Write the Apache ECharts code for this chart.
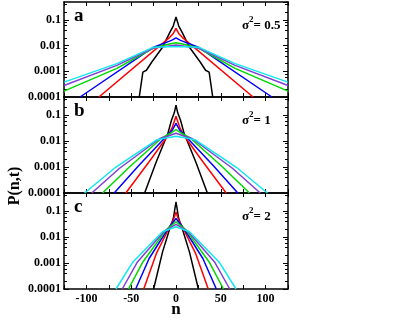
<!DOCTYPE html>
<html>
<head>
<meta charset="utf-8">
<script src="https://cdn.jsdelivr.net/npm/echarts@6/dist/echarts.min.js"></script>
<style>
html, body { margin: 0; padding: 0; background: #fff; }
#chart { width: 415px; height: 322px; }
</style>
</head>
<body>
<div id="chart"></div>
<script>
// 半边分布 [n, P(n,t)]，n >= 0，从图上读取；曲线关于 n = 0 对称
// panel a, sigma^2 = 0.5
const aBlack  = [[0, 0.13], [3, 0.059], [7, 0.032], [15, 0.0087], [27, 0.0023], [33, 0.0011], [37, 0.00093], [41, 0.0001]];
const aRed    = [[0, 0.047], [3, 0.030], [7, 0.021], [86, 0.0001]];
const aBlue   = [[0, 0.020], [5, 0.016], [25, 0.0087], [107, 0.0001]];
const aGreen  = [[0, 0.013], [10, 0.011], [25, 0.0081], [66, 0.0013], [125, 0.00017]];
const aPurple = [[0, 0.0105], [10, 0.0095], [25, 0.0081], [66, 0.0017], [125, 0.00028]];
const aCyan   = [[0, 0.0091], [10, 0.0091], [25, 0.0087], [66, 0.0020], [125, 0.00038]];

// panel b, sigma^2 = 1
const bBlack  = [[0, 0.24], [2, 0.12], [5, 0.065], [9, 0.020], [22, 0.0016], [35, 0.0001]];
const bRed    = [[0, 0.09], [4, 0.035], [9, 0.016], [30, 0.0016], [56, 0.0001]];
const bBlue   = [[0, 0.048], [4, 0.027], [11, 0.015], [41, 0.0012], [69, 0.0001]];
const bGreen  = [[0, 0.028], [6, 0.020], [15, 0.014], [52, 0.0010], [82, 0.0001]];
const bPurple = [[0, 0.020], [8, 0.016], [18, 0.0126], [63, 0.0009], [94, 0.0001]];
const bCyan   = [[0, 0.0155], [10, 0.0135], [22, 0.011], [67, 0.0010], [102, 0.0001]];

// panel c, sigma^2 = 2
const cBlack  = [[0, 0.23], [3, 0.052], [7, 0.021], [15, 0.0027], [25, 0.0001]];
const cRed    = [[0, 0.093], [3, 0.045], [7, 0.025], [22, 0.0023], [36, 0.0001]];
const cBlue   = [[0, 0.052], [9, 0.021], [30, 0.0015], [45, 0.0001]];
const cGreen  = [[0, 0.039], [11, 0.019], [37, 0.0011], [53, 0.0001]];
const cPurple = [[0, 0.031], [13, 0.017], [43, 0.0011], [60, 0.0001]];
const cCyan   = [[0, 0.025], [15, 0.016], [48, 0.0011], [67, 0.0001]];

const panelCurves = [
    [aBlack, aRed, aBlue, aGreen, aPurple, aCyan],
    [bBlack, bRed, bBlue, bGreen, bPurple, bCyan],
    [cBlack, cRed, cBlue, cGreen, cPurple, cCyan]
];
const panelLetters = ['a', 'b', 'c'];
const sigmaValues = ['0.5', '1', '2'];
const curveColors = ['#000000', '#ff0000', '#0000ff', '#00d800', '#8040d0', '#10e8f0'];

const xLabelValues = [-100, -50, 0, 50, 100];
const yLabelValues = [0.0001, 0.001, 0.01, 0.1];
const minorMultiples = [2, 4, 6, 8];

const FONT = 'Liberation Serif, Times New Roman, serif';
const gridTops = [2, 97, 193];
const gridHeights = [95, 96, 96];

// 对称展开
function mirror(half) {
    const left = half.slice(1).reverse().map(function (p) { return [-p[0], p[1]]; });
    return left.concat(half);
}

// 对数轴次刻度 2,4,6,8 x 10^k
const minorTicks = [];
yLabelValues.forEach(function (d) {
    minorMultiples.forEach(function (m) {
        const v = Number((d * m).toPrecision(2));
        if (v < 0.5) minorTicks.push(v);
    });
});

const chart = echarts.init(document.getElementById('chart'));

const grids = [];
const xAxes = [];
const yAxes = [];
const series = [];
const graphics = [];

const lineStyle = { color: '#000', width: 1.5 };

for (let i = 0; i < 3; i++) {
    grids.push({ left: 64, width: 224, top: gridTops[i], height: gridHeights[i] });

    ['bottom', 'top'].forEach(function (pos) {
        xAxes.push({
            type: 'value',
            gridIndex: i,
            position: pos,
            min: -125,
            max: 125,
            interval: 25,
            axisLine: { show: true, onZero: false, lineStyle: lineStyle },
            axisTick: { show: true, inside: true, length: 4, lineStyle: { color: '#000', width: 1 } },
            axisLabel: {
                show: pos === 'bottom' && i === 2,
                margin: 4,
                color: '#000',
                fontFamily: FONT,
                fontWeight: 'bold',
                fontSize: 12,
                formatter: function (v) { return xLabelValues.indexOf(v) >= 0 ? String(v) : ''; }
            },
            splitLine: { show: false }
        });
    });

    ['left', 'right'].forEach(function (pos) {
        // 主刻度
        yAxes.push({
            type: 'log',
            logBase: 10,
            gridIndex: i,
            position: pos,
            min: 0.0001,
            max: 0.5,
            axisLine: { show: true, onZero: false, lineStyle: lineStyle },
            axisTick: { show: true, inside: true, length: 5, lineStyle: { color: '#000', width: 1 } },
            axisLabel: {
                show: pos === 'left',
                showMaxLabel: false,
                margin: 3,
                color: '#000',
                fontFamily: FONT,
                fontWeight: 'bold',
                fontSize: 12,
                formatter: function (v) {
                    const r = Number(Number(v).toPrecision(3));
                    return yLabelValues.indexOf(r) >= 0 ? String(r) : '';
                }
            },
            splitLine: { show: false }
        });
    });
    ['left', 'right'].forEach(function (pos) {
        // 次刻度
        yAxes.push({
            type: 'log',
            logBase: 10,
            gridIndex: i,
            position: pos,
            min: 0.0001,
            max: 0.5,
            axisLine: { show: false, onZero: false },
            axisTick: { show: true, inside: true, length: 3, customValues: minorTicks, lineStyle: { color: '#000', width: 1 } },
            axisLabel: { show: false },
            splitLine: { show: false }
        });
    });

    panelCurves[i].forEach(function (half, k) {
        series.push({
            type: 'line',
            xAxisIndex: 2 * i,
            yAxisIndex: 4 * i,
            data: mirror(half),
            showSymbol: false,
            symbol: 'none',
            clip: true,
            z: 2 + k,
            lineStyle: { color: curveColors[k], width: 1.5 },
            itemStyle: { color: curveColors[k] }
        });
    });

    graphics.push({
        type: 'text',
        left: 74,
        top: gridTops[i] + 5,
        style: {
            text: panelLetters[i],
            font: 'bold 19px ' + FONT,
            fill: '#000'
        }
    });
    graphics.push({
        type: 'text',
        left: 242,
        top: gridTops[i] + 13,
        style: {
            text: '{s|σ}{p|2}{s|= ' + sigmaValues[i] + '}',
            fill: '#000',
            rich: {
                s: { font: 'bold 13px ' + FONT, fill: '#000', verticalAlign: 'bottom' },
                p: { font: 'bold 9px ' + FONT, fill: '#000', verticalAlign: 'top', padding: [0, 0, 8, 0] }
            }
        }
    });
}

graphics.push({
    type: 'text',
    x: 15,
    y: 186,
    rotation: Math.PI / 2,
    style: {
        text: 'P(n,t)',
        font: 'bold 16px ' + FONT,
        fill: '#000',
        align: 'center',
        verticalAlign: 'middle'
    }
});
graphics.push({
    type: 'text',
    x: 176,
    y: 310,
    style: {
        text: 'n',
        font: 'bold 17px ' + FONT,
        fill: '#000',
        align: 'center',
        verticalAlign: 'middle'
    }
});

chart.setOption({
    animation: false,
    backgroundColor: '#fff',
    grid: grids,
    xAxis: xAxes,
    yAxis: yAxes,
    series: series,
    graphic: graphics
});
</script>
</body>
</html>
